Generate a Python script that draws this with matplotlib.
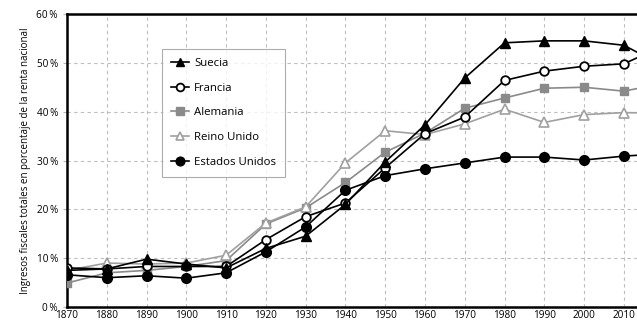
import matplotlib
matplotlib.use("Agg")
import matplotlib.pyplot as plt

plt.rcParams['font.family'] = ['Open Sans', 'DejaVu Sans']

# Datos (porcentaje de la renta nacional)
years = [1870, 1880, 1890, 1900, 1910, 1920, 1930, 1940, 1950, 1960, 1970, 1980, 1990, 2000, 2010, 2020]
suecia = [7.5, 7.8, 9.8, 8.8, 8.0, 12.0, 14.5, 21.0, 29.7, 37.3, 46.9, 54.1, 54.5, 54.5, 53.6, 49.3]
francia = [8.0, 7.8, 8.3, 8.3, 8.3, 13.8, 18.5, 21.3, 28.5, 35.5, 38.9, 46.4, 48.3, 49.3, 49.8, 53.5]
alemania = [4.9, 7.0, 7.5, 8.3, 9.5, 17.0, 20.3, 25.5, 31.7, 35.6, 40.7, 42.8, 44.8, 45.0, 44.2, 45.8]
reino_unido = [7.5, 9.0, 8.8, 9.0, 10.6, 17.2, 20.5, 29.5, 36.1, 35.3, 37.5, 40.5, 37.8, 39.4, 39.8, 39.7]
estados_unidos = [6.6, 6.0, 6.4, 5.9, 7.0, 11.3, 16.4, 23.9, 26.9, 28.3, 29.5, 30.7, 30.7, 30.1, 30.9, 31.4]

yticks = [0, 10, 20, 30, 40, 50, 60]
xticks = list(range(1870, 2011, 10))

fig = plt.figure(figsize=(6.37, 3.28), dpi=100)
ax = fig.add_axes([67 / 637, 1 - 307 / 328, 1 - 67 / 637, 293 / 328])

grey_dark = '#8a8a8a'
grey_light = '#a0a0a0'

ax.plot(years, suecia, color='black', lw=1.2, marker='^', ms=7,
        mfc='black', mec='black', label='Suecia', zorder=5)
ax.plot(years, francia, color='black', lw=1.2, marker='o', ms=6.2,
        mfc='white', mec='black', mew=1.3, label='Francia', zorder=4)
ax.plot(years, alemania, color=grey_dark, lw=1.2, marker='s', ms=6.2,
        mfc=grey_dark, mec=grey_dark, label='Alemania', zorder=3)
ax.plot(years, reino_unido, color=grey_light, lw=1.2, marker='^', ms=7,
        mfc='white', mec=grey_light, mew=1.2, label='Reino Unido', zorder=3)
ax.plot(years, estados_unidos, color='black', lw=1.2, marker='o', ms=7,
        mfc='black', mec='black', label='Estados Unidos', zorder=6)

ax.set_xlim(1870, 2013.3)
ax.set_ylim(0, 60)
ax.set_xticks(xticks)
ax.set_yticks(yticks)
ax.set_yticklabels([f'{v}\u2009%' for v in yticks])
ax.tick_params(axis='both', labelsize=7.2, length=3, color='#b5b5b5', width=0.8)
ax.tick_params(axis='x', pad=2.5, length=0)

ax.grid(True, color='#bdbdbd', ls=(0, (3, 3)), lw=0.8)
ax.set_axisbelow(True)

for side in ['top', 'bottom', 'left']:
    ax.spines[side].set_linewidth(1.8)
    ax.spines[side].set_color('black')
ax.spines['right'].set_visible(False)

ax.set_ylabel('Ingresos fiscales totales en porcentaje de la renta nacional', fontsize=7, labelpad=4)

leg = ax.legend(loc='upper left', bbox_to_anchor=((162 - 67) / 570, (307 - 49) / 293),
                fontsize=8.2, frameon=True, fancybox=False, edgecolor='#999999',
                handlelength=1.6, labelspacing=1.2, borderpad=0.8, handletextpad=0.4,
                borderaxespad=0, markerscale=0.9)
leg.get_frame().set_linewidth(0.8)

fig.savefig('out.png', dpi=100)
